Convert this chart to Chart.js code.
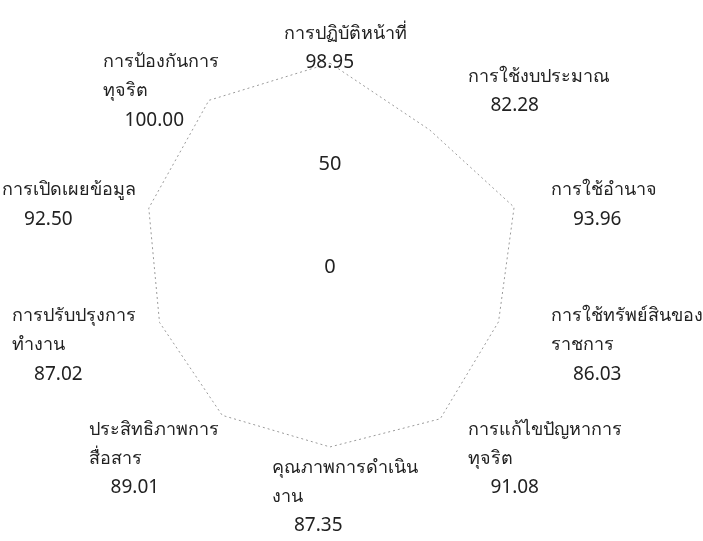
<!DOCTYPE html>
<html lang="th">
<head>
    <meta charset="UTF-8">
    <title>Radar</title>
    <script src="https://cdn.jsdelivr.net/npm/chart.js@4.4.0/dist/chart.umd.min.js"></script>
    <style>
        body { margin: 0; background: #fff; }
        #box { width: 703px; height: 541px; }
    </style>
</head>
<body>
<div id="box"><canvas id="canvas_radar"></canvas></div>

<script>
    // categorias (cada item = linhas do rótulo), no sentido horário a partir do topo
    var categorias = [
        ['การปฏิบัติหน้าที่'],
        ['การใช้งบประมาณ'],
        ['การใช้อำนาจ'],
        ['การใช้ทรัพย์สินของ', 'ราชการ'],
        ['การแก้ไขปัญหาการ', 'ทุจริต'],
        ['คุณภาพการดำเนิน', 'งาน'],
        ['ประสิทธิภาพการ', 'สื่อสาร'],
        ['การปรับปรุงการ', 'ทำงาน'],
        ['การเปิดเผยข้อมูล'],
        ['การป้องกันการ', 'ทุจริต']
    ];
    var pontuacao = [98.95, 82.28, 93.96, 86.03, 91.08, 87.35, 89.01, 87.02, 92.50, 100.00];
    var marcas = [0, 50];

    var fonte = '"Noto Sans", "DejaVu Sans", sans-serif';

    // desenha os rótulos de cada eixo (texto + valor) usando a posição da escala
    const rotulos = {
        id: 'rotulos',
        afterDraw(chart) {
            const scale = chart.scales.r;
            const ctx = chart.ctx;
            const alturaLinha = 29;
            const recuo = 22;
            ctx.save();
            ctx.fillStyle = '#222';
            ctx.textBaseline = 'middle';
            ctx.textAlign = 'left';
            for (let i = 0; i < categorias.length; i++) {
                const linhas = categorias[i];
                const valor = pontuacao[i].toFixed(2);
                const p = scale.getPointPosition(i, scale.drawingArea + 21);
                const s = Math.sin(p.angle + Math.PI / 2);
                const c = -Math.cos(p.angle + Math.PI / 2);

                ctx.font = '18px ' + fonte;
                let w = 0;
                linhas.forEach(l => { w = Math.max(w, ctx.measureText(l).width); });
                ctx.font = '19px ' + fonte;
                w = Math.max(w, recuo + ctx.measureText(valor).width);

                let esq;
                if (s > 0.1) esq = p.x + 5;
                else if (s < -0.1) esq = p.x + 22 - w;
                else esq = p.x + 15 - w / 2;

                const n = linhas.length + 1;
                let topo = p.y + 8 - n * alturaLinha / 2;
                if (c > 0.9) topo -= 5;

                ctx.font = '18px ' + fonte;
                linhas.forEach((l, k) => {
                    ctx.fillText(l, esq, topo + alturaLinha * (k + 0.5));
                });
                ctx.font = '19px ' + fonte;
                ctx.fillText(valor, esq + recuo, topo + alturaLinha * (n - 0.5));
            }
            ctx.restore();
        }
    };

    const ctx = document.getElementById('canvas_radar').getContext('2d');
    const grafico = new Chart(ctx, {
        type: 'radar',
        data: {
            labels: categorias.map(c => c.join('')),
            datasets: [{
                data: pontuacao,
                borderColor: '#9a9a9a',
                borderWidth: 1,
                borderDash: [2, 3],
                backgroundColor: 'rgba(0,0,0,0)',
                fill: false,
                pointRadius: 0,
                tension: 0
            }]
        },
        options: {
            responsive: true,
            maintainAspectRatio: false,
            animation: false,
            layout: { padding: { left: 112, right: 155, top: 49, bottom: 56 } },
            plugins: {
                legend: { display: false },
                tooltip: { enabled: false }
            },
            scales: {
                r: {
                    min: 0,
                    max: 100,
                    // o primeiro tick (centro) não ganha rótulo, por isso repete o 0
                    afterBuildTicks: function (scale) {
                        scale.ticks = [scale.min].concat(marcas).map(v => ({ value: v }));
                    },
                    ticks: {
                        color: '#222',
                        font: { size: 20, family: fonte },
                        showLabelBackdrop: false,
                        callback: function (v) { return String(v); }
                    },
                    grid: { display: false },
                    angleLines: { display: false },
                    pointLabels: { display: false }
                }
            }
        },
        plugins: [rotulos]
    });
</script>
</body>
</html>
